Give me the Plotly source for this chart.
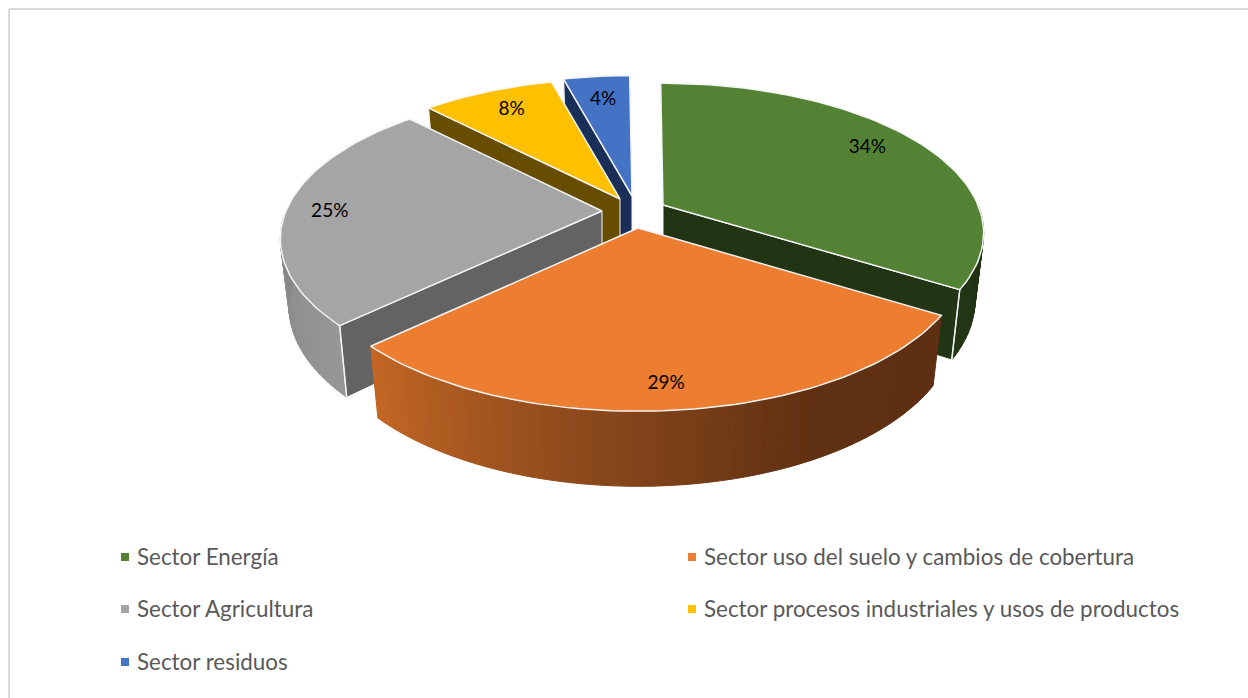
import math
import plotly.graph_objects as go

categories = ["Sector Energía", "Sector uso del suelo y cambios de cobertura",
              "Sector Agricultura", "Sector procesos industriales y usos de productos",
              "Sector residuos"]
values = [34, 29, 25, 8, 4]

top_colors = ["#548235", "#ED7D31", "#A5A5A5", "#FFC000", "#4472C4"]
side_colors = ["#213413", "#5E2F12", "#636363", "#664D00", "#1A2F57"]
wall_stops = {0: [(0, "#213413"), (1, "#213413")],
              1: [(0, "#5E2F12"), (0.3, "#5F3011"), (0.62, "#8A481C"), (1, "#C46724")],
              2: [(0, "#979797"), (1, "#858585")],
              3: [(0, "#664D00"), (1, "#664D00")],
              4: [(0, "#1A2F57"), (1, "#1A2F57")]}
# exploded centre and scale of each slice, in page pixels
hubs = [(663, 205), (638, 228), (602, 211), (620, 199), (632, 196)]
x_radius = [315.0, 322.0, 316.0, 315.0, 315.0]
y_radius = [144.5, 149.0, 144.5, 143.0, 143.0]
label_nudges = [(-7, -2), (-6, 3), (-8, 4), (3, 1), (1, 5)]
legend_cols = [125, 692]
legend_rows = [557, 609, 662]
legend_order = [(0, 0), (1, 0), (0, 1), (1, 1), (0, 2)]

P = 0.187       # perspective of the unit disc
DEPTH = 66.0    # thickness of the pie
SHRINK = 0.973  # convergence of the vertical edges
ROT = -0.5
FONT = "Lato"


def rim(i, deg, f=1.0):
    t = math.radians(deg)
    X, Z = math.sin(t), -math.cos(t)
    s = 1 / (1 - P * Z)
    return hubs[i][0] + f * x_radius[i] * X * s, hubs[i][1] + f * y_radius[i] * Z * s


def low(i, pt):
    x, y = pt
    hx, hy = hubs[i]
    s = 1 + (y - hy) / (149.0 / (1 - P)) * 0.137
    return hx + (x - hx) * SHRINK, y + DEPTH * s


def hexmix(a, b, u):
    ca = [int(a[k:k + 2], 16) for k in (1, 3, 5)]
    cb = [int(b[k:k + 2], 16) for k in (1, 3, 5)]
    return "#%02X%02X%02X" % tuple(round(p + (q - p) * u) for p, q in zip(ca, cb))


def stop_color(stops, u):
    for (u0, c0), (u1, c1) in zip(stops, stops[1:]):
        if u <= u1:
            return hexmix(c0, c1, (u - u0) / (u1 - u0))
    return stops[-1][1]


fig = go.Figure()


def poly(pts, fill, line=None, width=1.0):
    xs = [p[0] for p in pts] + [pts[0][0]]
    ys = [p[1] for p in pts] + [pts[0][1]]
    fig.add_trace(go.Scatter(x=xs, y=ys, mode="lines", fill="toself", fillcolor=fill,
                             line=dict(color=line or fill, width=width),
                             hoverinfo="skip", showlegend=False))


def edge(pts, width=1.5):
    fig.add_trace(go.Scatter(x=[p[0] for p in pts], y=[p[1] for p in pts], mode="lines",
                             line=dict(color="#F4F4F4", width=width),
                             hoverinfo="skip", showlegend=False))


# slice angles
starts, acc = [], ROT
for v in values:
    starts.append(acc)
    acc += v * 3.6

for i in [4, 3, 2, 0, 1]:  # far slices first
    a0 = starts[i]
    a1 = a0 + values[i] * 3.6
    hub = hubs[i]
    # outer wall, only the part that faces the viewer
    w0, w1 = max(a0, 90), min(a1, 270)
    if w1 > w0:
        n = max(2, int((w1 - w0) / 1.5))
        for k in range(n):
            d0 = w0 + (w1 - w0) * k / n
            d1 = w0 + (w1 - w0) * (k + 1) / n
            p0, p1 = rim(i, d0), rim(i, d1)
            col = stop_color(wall_stops[i], (k + 0.5) / n)
            poly([p0, p1, low(i, p1), low(i, p0)], col)
    # radial wall that faces the viewer
    if i == 0:
        rp = rim(i, a1)
    elif i in (2, 3, 4):
        rp = rim(i, a0)
    else:
        rp = None
    if rp is not None:
        poly([hub, rp, low(i, rp), low(i, hub)], side_colors[i], "#F4F4F4", 1)
        edge([rp, low(i, rp)], 1.5)
    # top face
    m = max(6, int((a1 - a0) / 1.5))
    arc = [rim(i, a0 + (a1 - a0) * k / m) for k in range(m + 1)]
    poly([hub] + arc, top_colors[i], "#F4F4F4", 1.5)

# percentage labels
lx, ly = [], []
for i, v in enumerate(values):
    x, y = rim(i, starts[i] + v * 1.8, 0.84)
    lx.append(x + label_nudges[i][0])
    ly.append(y + label_nudges[i][1])
fig.add_trace(go.Scatter(x=lx, y=ly, mode="text", text=[f"{v}%" for v in values],
                         textposition="middle center",
                         textfont=dict(family=FONT, size=19, color="#000000"),
                         hoverinfo="skip", showlegend=False))

# legend
mx = [legend_cols[c] for c, r in legend_order]
my = [legend_rows[r] for c, r in legend_order]
fig.add_trace(go.Scatter(x=mx, y=my, mode="markers",
                         marker=dict(symbol="square", size=8, color=top_colors, line=dict(width=0)),
                         hoverinfo="skip", showlegend=False))
fig.add_trace(go.Scatter(x=[x + 12 for x in mx], y=[y + 2.3 for y in my], mode="text", text=categories,
                         textposition="middle right",
                         textfont=dict(family=FONT, size=22.4, color="#595959"),
                         hoverinfo="skip", showlegend=False))

fig.update_layout(
    width=1248, height=698, margin=dict(l=0, r=0, t=0, b=0),
    paper_bgcolor="#FFFFFF", plot_bgcolor="#FFFFFF",
    xaxis=dict(range=[0, 1248], visible=False, fixedrange=True),
    yaxis=dict(range=[698, 0], visible=False, fixedrange=True),
    shapes=[
        dict(type="line", x0=9, x1=1248, y0=9, y1=9, line=dict(color="#D9D9D9", width=2)),
        dict(type="line", x0=9, x1=9, y0=9, y1=698, line=dict(color="#D9D9D9", width=2)),
    ],
)
fig.write_html("out.html", config={"displayModeBar": False},
               post_script="document.body.style.margin='0';document.documentElement.style.overflow='hidden';")
